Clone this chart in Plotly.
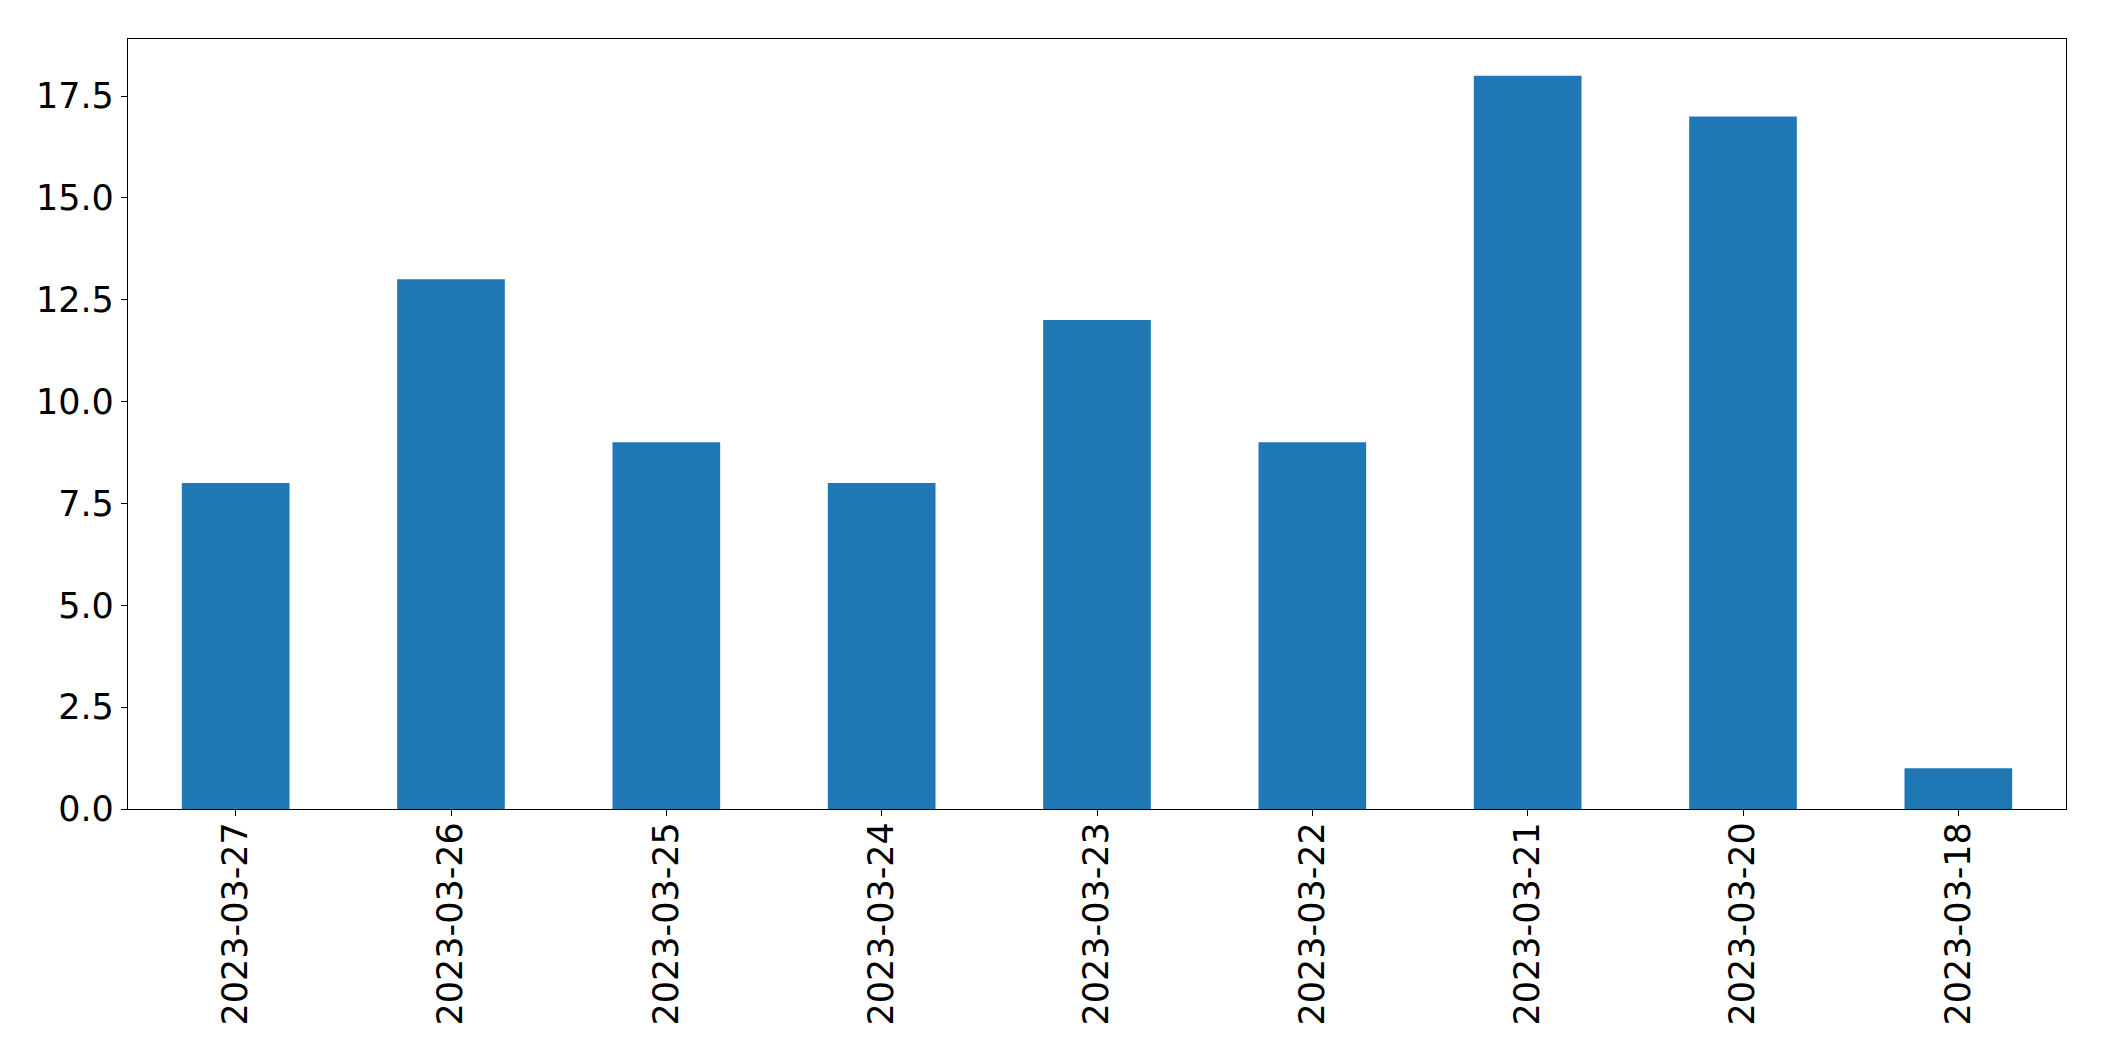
import plotly.graph_objects as go

categories = ["2023-03-27", "2023-03-26", "2023-03-25", "2023-03-24", "2023-03-23",
              "2023-03-22", "2023-03-21", "2023-03-20", "2023-03-18"]
values = [8, 13, 9, 8, 12, 9, 18, 17, 1]
y_ticks = [0, 2.5, 5, 7.5, 10, 12.5, 15, 17.5]
y_tick_labels = [f"{v:.1f}" for v in y_ticks]

fig = go.Figure(go.Bar(x=list(range(len(categories))), y=values,
                       width=0.5, marker=dict(color="#1f77b4", line=dict(width=0))))

fig.update_layout(
    width=2096, height=1053,
    margin=dict(l=120, r=38, t=31, b=252),
    plot_bgcolor="white", paper_bgcolor="white",
    font=dict(family="DejaVu Sans", size=35, color="black"),
    showlegend=False,
)
fig.update_xaxes(
    range=[-0.5, len(categories) - 0.5],
    tickvals=list(range(len(categories))), ticktext=categories,
    tickangle=-90, ticks="outside", ticklen=6, tickwidth=1.3, tickcolor="black",
    ticklabelstandoff=-8,
    showline=True, linecolor="black", linewidth=1.3, mirror=True,
    showgrid=False, zeroline=False,
)
fig.update_yaxes(
    range=[0, 18.9],
    tickvals=y_ticks, ticktext=y_tick_labels,
    ticks="outside", ticklen=6, tickwidth=1.3, tickcolor="black",
    showline=True, linecolor="black", linewidth=1.3, mirror=True,
    showgrid=False, zeroline=False,
)
fig.write_html("out.html")
